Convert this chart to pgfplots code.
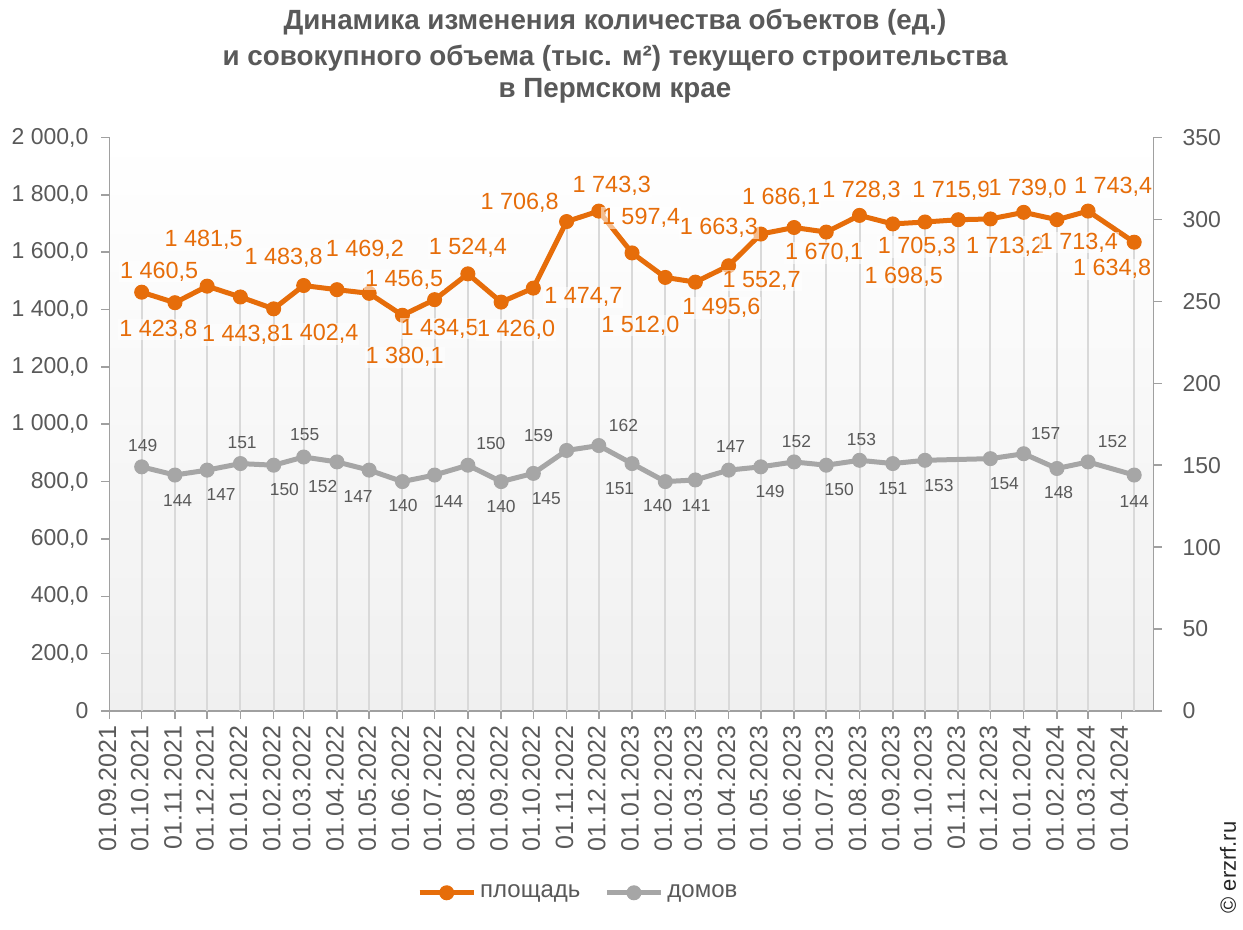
\documentclass[border=0pt]{standalone}
\usepackage{pgfplots}
\pgfplotsset{compat=1.18}
\usepackage{pgfplotstable}
\usepackage{fontspec}
\setmainfont{Liberation Sans}
\definecolor{orangeC}{HTML}{E66D0A}
\definecolor{grayC}{HTML}{A6A6A6}
\definecolor{txtC}{HTML}{595959}
\definecolor{axC}{HTML}{A0A0A0}
\definecolor{dropC}{HTML}{D9D9D9}
\definecolor{bgC}{HTML}{F0F0F0}

\pgfplotstableread{
x y dx dy
30 1460.5 17.5 -20.5
61 1423.8 -16.5 27
91 1481.5 -3.5 -46
122 1443.8 0.7 38
153 1402.4 45.7 25
181 1483.8 -20 -27.3
212 1469.2 28 -40
242 1456.5 35 -14
273 1380.1 2.3 42
303 1434.5 5 29
334 1524.4 0 -26
365 1426.0 15 28
395 1474.7 50 9
426 1706.8 -47 -19
456 1743.3 13 -25
487 1597.4 9 -35
518 1512.0 -25 48
546 1495.6 26 26
577 1552.7 33 15
607 1663.3 -42 -6
638 1686.1 -13 -30
668 1670.1 -2 21
699 1728.3 2 -25
730 1698.5 11 53
760 1705.3 -8 25
791 1713.2 47 27
821 1715.9 -39 -28
852 1739.0 4 -24
883 1713.4 22 23
912 1743.4 25 -24
955 1634.8 -22 27
}\orangedata

\pgfplotstableread{
x y dx dy
30 149 1 -21.6
61 144 2.7 25.3
91 147 14 24
122 151 1.7 -21
153 150 10.7 24
181 155 1 -22.7
212 152 -14.3 25
242 147 -11 26.6
273 140 0.6 24.3
303 144 14 26
334 150 23 -22
365 140 0 25
395 145 13 25
426 159 -28 -14.7
456 162 24.7 -20.5
487 151 -12.4 25
518 140 -7.7 24.3
546 141 0.7 26
577 147 2 -23.4
607 149 9.3 24.4
638 152 2.4 -20
668 150 13 24
699 153 2 -21
730 151 0 24.7
760 153 14 25
821 154 14 25
852 157 22 -20
883 148 1.7 24
912 152 24.4 -20.4
955 144 0 26
}\graydata

\begin{document}
\begin{tikzpicture}
\path[use as bounding box] (0,0) rectangle (621.5pt,465pt);

\pgfplotsset{
  common/.style={
    scale only axis, width=522pt, height=286.75pt,
    at={(54.75pt,109.5pt)}, anchor=south west,
    xmin=0, xmax=973,
    tick align=outside, major tick length=4pt,
    axis line style={draw=axC, line width=0.75pt},
    every tick/.style={draw=axC, line width=0.75pt},
    legend image code/.code={\draw[mark repeat=2,mark phase=2,##1] plot coordinates {(0pt,0pt) (13.5pt,0pt) (27pt,0pt)};},
  }
}

\begin{axis}[common,
  axis x line*=bottom, axis y line*=left,
  axis background/.style={top color=white, bottom color=bgC},
  ymin=0, ymax=2000,
  ytick={0,200,...,2000},
  yticklabels={0,{200,0},{400,0},{600,0},{800,0},{1 000,0},{1 200,0},{1 400,0},{1 600,0},{1 800,0},{2 000,0}},
  yticklabel style={font=\fontsize{11.5}{13}\selectfont, text=txtC, xshift=-3pt},
  xtick={0,30,61,91,122,153,181,212,242,273,303,334,365,395,426,456,487,518,546,577,607,638,668,699,730,760,791,821,852,883,912,943},
  xticklabels={01.09.2021,01.10.2021,01.11.2021,01.12.2021,01.01.2022,01.02.2022,01.03.2022,01.04.2022,01.05.2022,01.06.2022,01.07.2022,01.08.2022,01.09.2022,01.10.2022,01.11.2022,01.12.2022,01.01.2023,01.02.2023,01.03.2023,01.04.2023,01.05.2023,01.06.2023,01.07.2023,01.08.2023,01.09.2023,01.10.2023,01.11.2023,01.12.2023,01.01.2024,01.02.2024,01.03.2024,01.04.2024},
  xticklabel style={rotate=90, anchor=east, font=\fontsize{12.5}{14}\selectfont, text=txtC, yshift=1pt},
  clip=false,
]
\addplot[ycomb, draw=dropC, line width=1pt, no marks, forget plot] table[x=x,y=y] {\orangedata};
\addplot[orangeC, line width=2.5pt, mark=*, mark size=3.5pt,
  mark options={solid, fill=orangeC, draw=orangeC, line width=0.5pt},
  point meta=y,
  visualization depends on={\thisrow{dx} \as \dx},
  visualization depends on={\thisrow{dy} \as \dy},
  nodes near coords={\pgfmathprintnumber[fixed,fixed zerofill,precision=1,use comma,1000 sep={\ },assume math mode=true]{\pgfplotspointmeta}},
  every node near coord/.append style={anchor=center, font=\fontsize{11.7}{13}\selectfont, text=orangeC, xshift={0.5*\dx pt}, yshift={-0.5*\dy pt}, fill=white, fill opacity=0.55, text opacity=1, inner sep=0.5pt},
] table[x=x,y=y] {\orangedata};
\end{axis}

\begin{axis}[common,
  axis y line*=right, axis x line=none,
  ymin=0, ymax=350,
  ytick={0,50,...,350},
  yticklabels={0,50,100,150,200,250,300,350},
  yticklabel style={font=\fontsize{11.5}{13}\selectfont, text=txtC, xshift=7pt},
  clip=false,
  legend style={at={(axis description cs:0.450,-0.317)}, anchor=center, draw=none, fill=none,
    font=\fontsize{12}{14}\selectfont, text=txtC, legend columns=2,
    /tikz/every even column/.append style={column sep=10pt}},
]
\addlegendimage{orangeC, line width=2.5pt, mark=*, mark size=3.5pt, mark options={solid, fill=orangeC, draw=orangeC, line width=0.5pt}}
\addlegendentry{площадь}
\addplot[grayC, line width=2.5pt, mark=*, mark size=3.5pt,
  mark options={solid, fill=grayC, draw=grayC, line width=0.5pt},
  point meta=y,
  visualization depends on={\thisrow{dx} \as \dx},
  visualization depends on={\thisrow{dy} \as \dy},
  nodes near coords={\pgfmathprintnumber[fixed,precision=0,assume math mode=true]{\pgfplotspointmeta}},
  every node near coord/.append style={anchor=center, font=\fontsize{8.7}{10}\selectfont, text=txtC, xshift={0.5*\dx pt}, yshift={-0.5*\dy pt}, inner sep=0.5pt},
] table[x=x,y=y] {\graydata};
\addlegendentry{домов}
\end{axis}

\node[font=\bfseries\fontsize{13.9}{16}\selectfont, text=txtC] at (307.5pt,454pt) {Динамика изменения количества объектов (ед.)};
\node[font=\bfseries\fontsize{13.9}{16}\selectfont, text=txtC] at (307.5pt,436pt) {и совокупного объема (тыс. м²) текущего строительства};
\node[font=\bfseries\fontsize{13.9}{16}\selectfont, text=txtC] at (307.5pt,419.5pt) {в Пермском крае};
\node[rotate=90, font=\fontsize{11}{13}\selectfont, text=black!85] at (614pt,31.25pt) {© erzrf.ru};
\end{tikzpicture}
\end{document}
